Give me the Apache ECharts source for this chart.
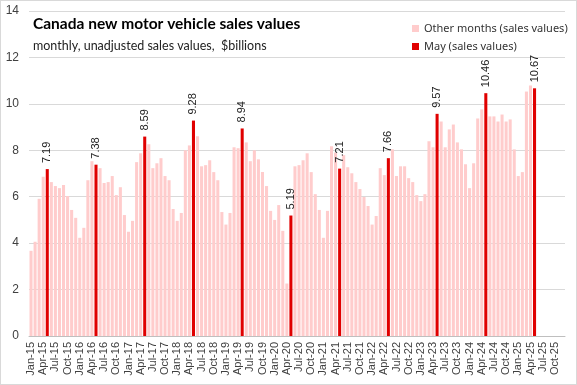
<!DOCTYPE html>
<html><head><meta charset="utf-8">
<script src="https://cdn.jsdelivr.net/npm/echarts@6/dist/echarts.min.js"></script>
<style>html,body{margin:0;padding:0;background:#fff}#c{width:577px;height:385px;box-sizing:border-box;border:1px solid #d9d9d9}</style>
</head><body><div id="c"></div>
<script>
// Monthly values Jan-15 .. May-25 ($billions)
const values = [
 3.67,4.06,5.91,6.86,7.19,6.63,6.46,6.37,6.50,6.03,5.43,5.09,
 4.23,4.66,6.71,7.53,7.38,7.23,6.59,6.63,6.89,6.07,6.41,5.21,
 4.49,4.96,7.49,7.87,8.59,8.26,7.23,7.44,7.66,6.89,6.71,5.47,
 4.96,5.30,8.00,8.21,9.28,8.60,7.31,7.36,7.57,7.06,6.71,5.34,
 4.80,5.30,8.13,8.09,8.94,8.34,7.53,8.00,7.61,7.06,6.46,5.39,
 5.00,5.64,4.53,2.26,5.19,7.31,7.36,7.57,7.87,7.06,6.11,5.43,
 4.23,5.39,8.17,7.90,7.21,7.79,7.27,7.01,6.63,6.33,5.99,5.60,
 4.80,5.17,7.23,6.93,7.66,8.04,6.89,7.31,7.31,6.80,6.63,6.07,
 5.81,6.11,8.39,8.13,9.57,9.24,8.13,8.90,9.11,8.34,8.04,7.40,
 6.37,7.44,9.37,9.76,10.46,9.46,9.46,9.24,9.54,9.24,9.33,8.04,
 6.89,7.06,10.53,10.79,10.67
];
const monthNames = ['Jan','Feb','Mar','Apr','May','Jun','Jul','Aug','Sep','Oct','Nov','Dec'];
const years = [15,16,17,18,19,20,21,22,23,24,25];
const categories = [];
years.forEach(y => monthNames.forEach(m => categories.push(m + '-' + y)));
const otherSeries = categories.map((c, i) => (i < values.length && !c.startsWith('May')) ? values[i] : null);
const maySeries = categories.map((c, i) => (i < values.length && c.startsWith('May')) ? values[i] : null);

const chart = echarts.init(document.getElementById('c'));
chart.setOption({
  animation: false,
  title: {
    text: 'Canada new motor vehicle sales values',
    subtext: 'monthly, unadjusted sales values,  $billions',
    left: 27, top: 10, itemGap: 7,
    textStyle: {fontFamily: 'Lato', fontSize: 15.5, fontWeight: 'bold', color: '#000'},
    subtextStyle: {fontFamily: 'Lato', fontSize: 12.5, color: '#222'}
  },
  legend: {
    orient: 'vertical', left: 406, top: 17, itemWidth: 7, itemHeight: 7, itemGap: 7, icon: 'rect',
    textStyle: {fontFamily: 'Noto Sans', fontSize: 11, color: '#333'},
    data: ['Other months (sales values)', 'May (sales values)']
  },
  grid: {left: 28, right: 11, top: 10, bottom: 48},
  xAxis: {
    type: 'category', data: categories,
    axisLine: {lineStyle: {color: '#bfbfbf'}},
    axisTick: {interval: 2, alignWithLabel: true, lineStyle: {color: '#bfbfbf'}},
    axisLabel: {interval: 2, rotate: 90, fontFamily: 'Liberation Sans', fontSize: 11, color: '#404040', margin: 6}
  },
  yAxis: {
    type: 'value', min: 0, max: 14, interval: 2,
    axisLabel: {fontFamily: 'Liberation Sans', fontSize: 12, color: '#404040', margin: 10},
    splitLine: {lineStyle: {color: '#d9d9d9'}}
  },
  series: [
    {name: 'Other months (sales values)', type: 'bar', data: otherSeries,
     itemStyle: {color: '#ffcccc'}, barWidth: '75%', barGap: '-100%'},
    {name: 'May (sales values)', type: 'bar', data: maySeries,
     itemStyle: {color: '#e00000'}, barWidth: '75%', barGap: '-100%',
     label: {show: true, position: 'top', rotate: 90, align: 'left', verticalAlign: 'middle', distance: 6,
       fontFamily: 'Liberation Sans', fontSize: 11, color: '#222',
       formatter: p => p.value == null ? '' : p.value.toFixed(2)}}
  ]
});
</script></body></html>
